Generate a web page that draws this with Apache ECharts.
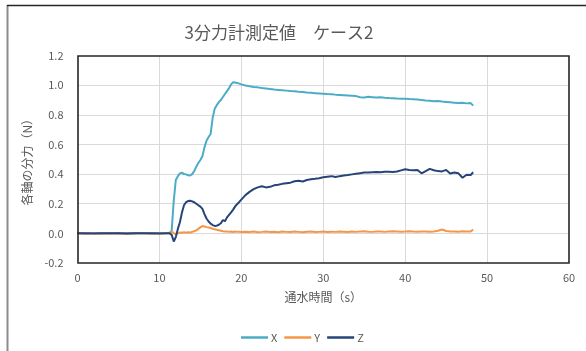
<!DOCTYPE html>
<html>
<head>
<meta charset="utf-8">
<script src="https://cdn.jsdelivr.net/npm/echarts@6/dist/echarts.min.js"></script>
<style>
  html, body { margin: 0; padding: 0; background: #fff; }
  #chart { width: 586px; height: 351px; }
</style>
</head>
<body>
<div id="chart"></div>
<script>
// Elapsed time of water flow (s)
const time = [
  0, 1, 2, 3, 4, 5, 6, 7, 8, 9, 10, 11,
  11.25, 11.5, 11.75, 12, 12.25, 12.5, 12.75, 13, 13.25, 13.5, 13.75, 14,
  14.25, 14.5, 14.75, 15, 15.25, 15.5, 15.75, 16, 16.25, 16.5, 16.75, 17,
  17.25, 17.5, 17.75, 18, 18.25, 18.5, 18.75, 19, 19.25, 19.5, 19.75, 20,
  20.5, 21, 21.5, 22, 22.5, 23, 23.5, 24, 24.5, 25,
  25.5, 26, 26.5, 27, 27.5, 28, 28.5, 29, 29.5, 30,
  30.5, 31, 31.5, 32, 32.5, 33, 33.5, 34, 34.5, 35,
  35.5, 36, 36.5, 37, 37.5, 38, 38.5, 39, 39.5, 40,
  40.5, 41, 41.5, 42, 42.5, 43, 43.5, 44, 44.5, 45,
  45.5, 46, 46.5, 47, 47.5, 48, 48.3
];

// Force component along X (N)
const forceX = [
  0.001, -0.002, 0.002, 0, -0.001, 0.002, -0.002, 0.001, 0, -0.001, 0.002, 0,
  0.00, 0.02, 0.22, 0.36, 0.385, 0.405, 0.41, 0.40, 0.398, 0.392, 0.39, 0.40,
  0.42, 0.45, 0.475, 0.495, 0.52, 0.58, 0.625, 0.65, 0.67, 0.78, 0.84, 0.865,
  0.885, 0.90, 0.92, 0.94, 0.96, 0.98, 1.005, 1.02, 1.018, 1.015, 1.01, 1.005,
  0.998, 0.992, 0.988, 0.985, 0.98, 0.978, 0.974, 0.97, 0.968, 0.966,
  0.963, 0.96, 0.958, 0.955, 0.953, 0.95, 0.948, 0.946, 0.944, 0.942,
  0.94, 0.939, 0.936, 0.934, 0.932, 0.93, 0.928, 0.926, 0.918, 0.916,
  0.921, 0.919, 0.917, 0.918, 0.915, 0.913, 0.912, 0.91, 0.909, 0.908,
  0.906, 0.905, 0.903, 0.9, 0.897, 0.895, 0.891, 0.893, 0.889, 0.887,
  0.885, 0.882, 0.879, 0.881, 0.877, 0.879, 0.862
];

// Force component along Y (N)
const forceY = [
  0.003, -0.002, 0.002, -0.003, 0.001, -0.002, 0.003, -0.001, 0.002, -0.003, 0.001, 0.002,
  0.004, 0.012, 0.002, -0.006, 0.0, 0.005, 0.004, 0.007, 0.005, 0.008, 0.006, 0.01,
  0.014, 0.02, 0.03, 0.04, 0.05, 0.046, 0.042, 0.04, 0.036, 0.031, 0.028, 0.024,
  0.021, 0.018, 0.014, 0.012, 0.013, 0.01, 0.012, 0.009, 0.012, 0.01, 0.011, 0.009,
  0.011, 0.009, 0.012, 0.008, 0.01, 0.013, 0.009, 0.011, 0.008, 0.012,
  0.01, 0.009, 0.012, 0.01, 0.008, 0.011, 0.013, 0.009, 0.01, 0.012,
  0.009, 0.011, 0.01, 0.013, 0.011, 0.009, 0.012, 0.01, 0.012, 0.014,
  0.011, 0.01, 0.013, 0.012, 0.01, 0.012, 0.014, 0.013, 0.011, 0.012,
  0.014, 0.012, 0.011, 0.013, 0.012, 0.011, 0.013, 0.018, 0.026, 0.016,
  0.012, 0.013, 0.011, 0.014, 0.012, 0.013, 0.025
];

// Force component along Z (N)
const forceZ = [
  0.001, 0, -0.001, 0.001, 0, 0.001, -0.001, 0, 0.001, 0, -0.001, 0,
  0.0, -0.01, -0.055, -0.025, 0.03, 0.075, 0.14, 0.19, 0.21, 0.218, 0.22, 0.216,
  0.21, 0.2, 0.19, 0.18, 0.165, 0.13, 0.1, 0.08, 0.066, 0.056, 0.05, 0.052,
  0.058, 0.068, 0.09, 0.082, 0.108, 0.125, 0.142, 0.16, 0.182, 0.198, 0.212, 0.228,
  0.258, 0.28, 0.298, 0.31, 0.318, 0.31, 0.314, 0.324, 0.328, 0.334,
  0.338, 0.342, 0.352, 0.355, 0.35, 0.36, 0.365, 0.368, 0.372, 0.378,
  0.382, 0.386, 0.38, 0.386, 0.39, 0.393, 0.398, 0.402, 0.406, 0.41,
  0.41, 0.413, 0.414, 0.413, 0.415, 0.415, 0.414, 0.417, 0.425, 0.432,
  0.428, 0.425, 0.428, 0.405, 0.42, 0.435, 0.426, 0.42, 0.418, 0.428,
  0.404, 0.41, 0.405, 0.375, 0.395, 0.394, 0.412
];

const seriesNames = ['X', 'Y', 'Z'];
const seriesColors = ['#4BACC6', '#F79646', '#264478'];
const seriesValues = [forceX, forceY, forceZ];

// Axis ranges
const timeRange = [0, 60];
const forceRange = [-0.2, 1.2];

const font = "'Noto Sans CJK JP', 'Noto Sans', sans-serif";
const textGray = '#595959';
const frameColor = '#262626';
const gridColor = '#D9D9D9';

const chart = echarts.init(document.getElementById('chart'), null, { renderer: 'canvas' });

chart.setOption({
  animation: false,
  backgroundColor: '#ffffff',
  textStyle: { fontFamily: font },
  title: {
    text: '3分力計測定値\u3000ケース2',
    left: 274,
    top: 19,
    textAlign: 'center',
    textStyle: { fontFamily: font, fontSize: 17, fontWeight: 'normal', color: textGray }
  },
  legend: {
    data: seriesNames,
    icon: 'rect',
    left: 236,
    top: 327,
    itemWidth: 27,
    itemHeight: 2.5,
    itemGap: 7,
    textStyle: { fontFamily: font, fontSize: 11, color: textGray, padding: [0, 0, 0, -2] }
  },
  grid: {
    left: 77.5,
    right: 17,
    top: 55.5,
    bottom: 88,
    containLabel: false
  },
  xAxis: {
    type: 'value',
    min: timeRange[0],
    max: timeRange[1],
    interval: 10,
    name: '通水時間（s）',
    nameLocation: 'middle',
    nameGap: 28,
    nameTextStyle: { fontFamily: font, fontSize: 12, color: textGray },
    axisLine: { show: false },
    axisTick: { show: false },
    axisLabel: { margin: 9, fontFamily: font, fontSize: 11, color: textGray },
    splitLine: { show: true, showMinLine: false, showMaxLine: false, lineStyle: { color: gridColor, width: 1 } }
  },
  yAxis: {
    type: 'value',
    min: forceRange[0],
    max: forceRange[1],
    interval: 0.2,
    name: '各軸の分力（N）',
    nameLocation: 'middle',
    nameGap: 32,
    nameTextStyle: { fontFamily: font, fontSize: 12, color: textGray },
    axisLine: { show: false },
    axisTick: { show: false },
    axisLabel: {
      margin: 14,
      fontFamily: font,
      fontSize: 11,
      color: textGray,
      formatter: v => v.toFixed(1)
    },
    splitLine: { show: true, showMinLine: false, showMaxLine: false, lineStyle: { color: gridColor, width: 1 } }
  },
  series: seriesNames.map((name, i) => ({
    name: name,
    type: 'line',
    data: time.map((t, k) => [t, seriesValues[i][k]]),
    showSymbol: false,
    symbol: 'none',
    smooth: false,
    color: seriesColors[i],
    lineStyle: { color: seriesColors[i], width: 2 },
    z: 2 + i
  }))
});

// Chart-area edge lines and the plot frame, placed from the axis scales
const topLeft = chart.convertToPixel({ gridIndex: 0 }, [timeRange[0], forceRange[1]]);
const bottomRight = chart.convertToPixel({ gridIndex: 0 }, [timeRange[1], forceRange[0]]);
const snap = v => Math.round(v);
chart.setOption({
  graphic: [
    { type: 'line', shape: { x1: 7.5, y1: 5, x2: 7.5, y2: 351 }, style: { stroke: '#8c8c8c', lineWidth: 2 }, silent: true, z: 100 },
    { type: 'line', shape: { x1: 7, y1: 5.5, x2: 586, y2: 5.5 }, style: { stroke: frameColor, lineWidth: 1.5 }, silent: true, z: 100 },
    {
      type: 'rect',
      shape: {
        x: snap(topLeft[0]),
        y: snap(topLeft[1]),
        width: snap(bottomRight[0]) - snap(topLeft[0]),
        height: snap(bottomRight[1]) - snap(topLeft[1])
      },
      style: { fill: null, stroke: frameColor, lineWidth: 1.6 },
      silent: true,
      z: 100
    }
  ]
});
</script>
</body>
</html>
